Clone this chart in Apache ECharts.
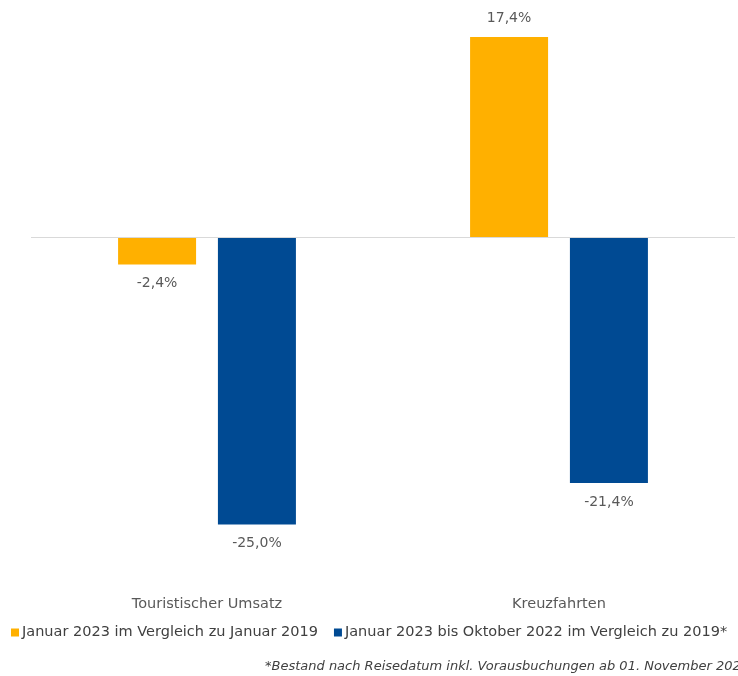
<!DOCTYPE html>
<html>
<head>
<meta charset="utf-8">
<script src="https://cdn.jsdelivr.net/npm/echarts@6/dist/echarts.min.js"></script>
<style>
  html, body { margin: 0; padding: 0; background: #fff; }
  #chart { width: 738px; height: 676px; }
</style>
</head>
<body>
<div id="chart"></div>
<script>
// Kategorien und Werte (in %)
const kategorien = ['Touristischer Umsatz', 'Kreuzfahrten'];
const serieJanuar = [-2.4, 17.4];
const serieBisOktober = [-25.0, -21.4];
const serienNamen = [
    'Januar 2023 im Vergleich zu Januar 2019',
    'Januar 2023 bis Oktober 2022 im Vergleich zu 2019*'
];
const fussnote = '*Bestand nach Reisedatum inkl. Vorausbuchungen ab 01. November 2022';

var dom = document.getElementById('chart');
var myChart = echarts.init(dom, null, { renderer: 'canvas' });

// Zahlen mit Komma wie im Original
function fmt(v) {
    return v.toFixed(1).replace('.', ',') + '%';
}

function balkenDaten(werte) {
    return werte.map(function (v) {
        return { value: v, label: { position: v < 0 ? 'bottom' : 'top' } };
    });
}

var labelStyle = {
    show: true,
    color: '#595959',
    fontSize: 14,
    distance: 12,
    formatter: function (p) { return fmt(p.value); }
};

var option = {
    animation: false,
    textStyle: { fontFamily: 'DejaVu Sans' },
    grid: { left: 31, right: 3, top: 7, bottom: 94 },
    title: {
        text: fussnote,
        left: 265,
        top: 660,
        padding: 0,
        textStyle: {
            fontSize: 13,
            fontStyle: 'italic',
            fontWeight: 'normal',
            color: '#404040',
            fontFamily: 'DejaVu Sans'
        }
    },
    legend: {
        left: 11,
        top: 625,
        padding: 0,
        itemWidth: 8,
        itemHeight: 8,
        itemGap: 16,
        icon: 'rect',
        textStyle: { fontSize: 14.5, color: '#404040', padding: [0, 0, 0, -2] },
        data: serienNamen
    },
    xAxis: {
        type: 'category',
        data: kategorien,
        axisLine: { show: false },
        axisTick: { show: false },
        axisLabel: { color: '#595959', fontSize: 14.5, margin: 15 }
    },
    yAxis: {
        type: 'value',
        min: -30,
        max: 20,
        show: false
    },
    series: [
        {
            name: serienNamen[0],
            type: 'bar',
            data: balkenDaten(serieJanuar),
            barWidth: 78,
            barGap: '28%',
            itemStyle: { color: '#FFB000' },
            label: labelStyle,
            markLine: {
                silent: true,
                symbol: 'none',
                label: { show: false },
                lineStyle: { color: '#D9D9D9', type: 'solid', width: 1 },
                data: [{ yAxis: 0 }]
            }
        },
        {
            name: serienNamen[1],
            type: 'bar',
            data: balkenDaten(serieBisOktober),
            barWidth: 78,
            itemStyle: { color: '#004A93' },
            label: labelStyle
        }
    ]
};

myChart.setOption(option);
</script>
</body>
</html>
